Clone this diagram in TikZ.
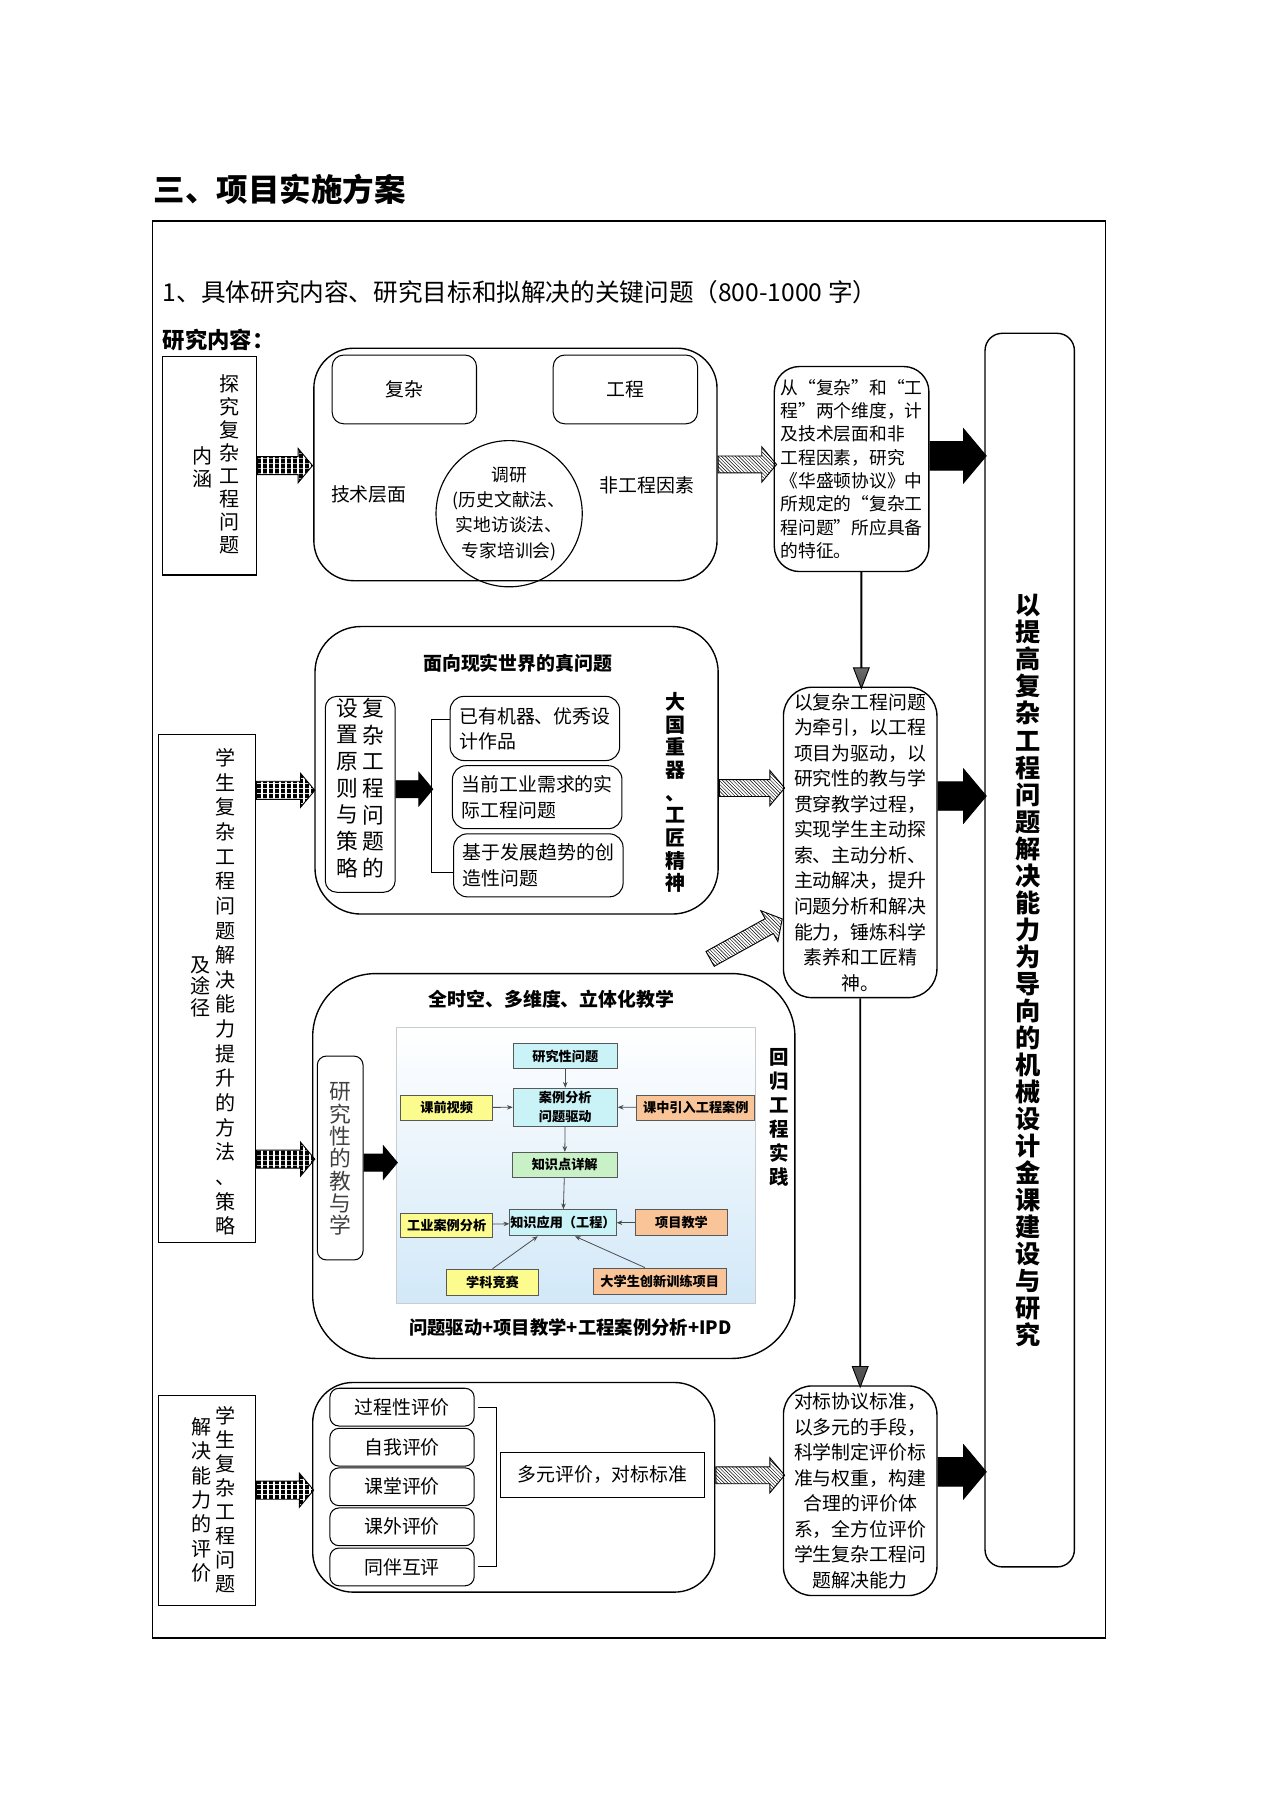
\documentclass[tikz,border=0pt]{standalone}
\usepackage{fontspec}
\setmainfont{Noto Sans CJK SC}
\usetikzlibrary{shapes.arrows,patterns,arrows.meta}

\pgfdeclarepatternformonly{thickvlines}{\pgfpointorigin}{\pgfqpoint{5pt}{4pt}}{\pgfqpoint{5pt}{4pt}}{%
  \pgfpathrectangle{\pgfpointorigin}{\pgfqpoint{3.6pt}{4pt}}\pgfusepath{fill}}

\definecolor{kcyan}{RGB}{202,243,248}
\definecolor{kyellow}{RGB}{252,252,142}
\definecolor{korange}{RGB}{249,197,152}
\definecolor{kgreen}{RGB}{200,241,200}
\definecolor{kblue}{RGB}{210,232,248}

\tikzset{
  box/.style={draw, line width=1.2pt, inner sep=0pt, align=center},
  thinbox/.style={draw, line width=0.9pt, inner sep=0pt, align=center},
  txt/.style={inner sep=0pt, align=center},
  fa/.style={font=\fontsize{16.5}{22.3}\selectfont},
  fb/.style={font=\fontsize{16.5}{22}\selectfont\bfseries},
  kbox/.style={draw=black!65, line width=0.7pt, inner sep=0pt, align=center, font=\fontsize{11.5}{16}\selectfont\bfseries},
  kline/.style={draw=black!70, line width=0.7pt, -{Stealth[length=5pt,width=4pt]}},
  barrow/.style={single arrow, draw, line width=0.8pt, inner xsep=0pt, minimum width=1pt,
    single arrow head indent=0pt, single arrow tip angle=100, anchor=tail},
  stripearr/.style={barrow, pattern=thickvlines, inner ysep=7.5pt, single arrow head extend=7pt},
  hatcharr/.style={barrow, pattern=north west lines, inner ysep=7pt, single arrow head extend=8pt},
  blackarr/.style={barrow, fill=black, inner ysep=12pt, single arrow head extend=11pt},
  smallarr/.style={barrow, fill=black, inner ysep=7pt, single arrow head extend=7pt},
  grayarr/.style={barrow, shape border rotate=270, single arrow tip angle=42,
    top color=white, bottom color=black!70, single arrow head extend=6.5pt}
}

\begin{document}
\begin{tikzpicture}[x=1pt,y=-1pt]
  \useasboundingbox (0,0) rectangle (1107,1565.4);

  \node[txt, anchor=west, font=\fontsize{27.5}{30}\selectfont\bfseries] (title) at (134,165) {三、项目实施方案};
  \draw[line width=1.2pt] (133,193) rectangle (965,1430);
  \node[txt, anchor=west, font=\fontsize{21.5}{24}\selectfont] (head1) at (142,255) {1、具体研究内容、研究目标和拟解决的关键问题（800-1000 字）};
  \node[txt, anchor=west, font=\fontsize{19.5}{22}\selectfont\bfseries] (head2) at (142,297) {研究内容：};

  \node[thinbox, minimum width=82, minimum height=191] (L1) at (183,406.5) {};
  \node[txt, font=\fontsize{17.5}{20.1}\selectfont] (L1a) at (200,405.5) {探\\究\\复\\杂\\工\\程\\问\\题};
  \node[txt, font=\fontsize{17.5}{20}\selectfont] (L1b) at (177,408) {内\\涵};
  \node[box, rounded corners=35, minimum width=352, minimum height=203] (R1) at (450,405.5) {};
  \node[thinbox, rounded corners=10, minimum width=126, minimum height=60, fa] (fz) at (353,340) {复杂};
  \node[thinbox, rounded corners=10, minimum width=126, minimum height=60, fa] (gc) at (546,340) {工程};
  \node[txt, fa] (jscm) at (322,432) {技术层面};
  \node[txt, fa] (fgc) at (565,424) {非工程因素};
  \node[circle, draw, line width=1pt, minimum size=116, inner sep=0pt, align=center,
    font=\fontsize{15.5}{22}\selectfont] (dy) at (444.5,448.5) {调研\\(历史文献法、\\实地访谈法、\\专家培训会)};
  \node[box, rounded corners=22, minimum width=135, minimum height=179, align=left,
    font=\fontsize{15.5}{20.4}\selectfont] (T1) at (743.5,409.5) {从“复杂”和“工\\程”两个维度，计\\及技术层面和非\\工程因素，研究\\《华盛顿协议》中\\所规定的“复杂工\\程问题”所应具备\\的特征。};
  \node[box, rounded corners=15, minimum width=78, minimum height=1077] (RB) at (899,829.5) {};
  \node[txt, font=\fontsize{22}{23.6}\selectfont\bfseries] (RBt) at (898,847.5) {以\\提\\高\\复\\杂\\工\\程\\问\\题\\解\\决\\能\\力\\为\\导\\向\\的\\机\\械\\设\\计\\金\\课\\建\\设\\与\\研\\究};

  \node[thinbox, minimum width=85, minimum height=444] (L2) at (180.5,863) {};
  \node[txt, font=\fontsize{17.5}{21.5}\selectfont] (L2a) at (196.5,866) {学\\生\\复\\杂\\工\\程\\问\\题\\解\\决\\能\\力\\提\\升\\的\\方\\法\\、\\策\\略};
  \node[txt, font=\fontsize{17.5}{19}\selectfont] (L2b) at (175,861.5) {及\\途\\径};
  \node[box, rounded corners=40, minimum width=352, minimum height=251] (R2) at (451,672.5) {};
  \node[txt, fb] (R2t) at (452,579) {面向现实世界的真问题};
  \node[thinbox, rounded corners=10, minimum width=61, minimum height=171] (sz) at (314.5,693.5) {};
  \node[txt, font=\fontsize{19}{23.3}\selectfont] (sza) at (326,688) {复\\杂\\工\\程\\问\\题\\的};
  \node[txt, font=\fontsize{19}{23.3}\selectfont] (szb) at (303,688) {设\\置\\原\\则\\与\\策\\略};
  \node[thinbox, rounded corners=12, minimum width=148, minimum height=56, align=left,
    font=\fontsize{16.5}{22}\selectfont] (q1) at (467,636) {已有机器、优秀设\\计作品};
  \node[thinbox, rounded corners=12, minimum width=148, minimum height=55, align=left,
    font=\fontsize{16.5}{22}\selectfont] (q2) at (469,696) {当前工业需求的实\\际工程问题};
  \node[thinbox, rounded corners=12, minimum width=148, minimum height=55, align=left,
    font=\fontsize{16.5}{22}\selectfont] (q3) at (470,755.5) {基于发展趋势的创\\造性问题};
  \node[txt, font=\fontsize{17.5}{19.8}\selectfont\bfseries] (dgzq) at (590,692) {大\\国\\重\\器\\、\\工\\匠\\精\\神};
  \node[box, rounded corners=25, minimum width=134, minimum height=271, fa] (T2) at (751,735.5) {以复杂工程问题\\为牵引，以工程\\项目为驱动，以\\研究性的教与学\\贯穿教学过程，\\实现学生主动探\\索、主动分析、\\主动解决，提升\\问题分析和解决\\能力，锤炼科学\\素养和工匠精\\神。};

  \node[box, rounded corners=55, minimum width=421, minimum height=336] (R3) at (483.5,1018) {};
  \node[txt, fb] (R3t) at (481.5,872) {全时空、多维度、立体化教学};
  \node[thinbox, rounded corners=8, minimum width=40, minimum height=178] (yj) at (297,1011) {};
  \node[txt, text=black!75, font=\fontsize{19}{19.5}\selectfont] (yjt) at (297,1012) {研\\究\\性\\的\\教\\与\\学};
  \node[draw=black!20, top color=white, bottom color=kblue, minimum width=313, minimum height=241, inner sep=0pt] (pic) at (502.5,1017.5) {};
  \node[kbox, fill=kcyan, minimum width=91, minimum height=22] (k1) at (493.5,922) {研究性问题};
  \node[kbox, fill=kcyan, minimum width=91, minimum height=33] (k2) at (493.5,966.5) {案例分析\\问题驱动};
  \node[kbox, fill=kyellow, minimum width=80, minimum height=22] (k3) at (390,967) {课前视频};
  \node[kbox, fill=korange, minimum width=103, minimum height=22] (k4) at (607.5,967) {课中引入工程案例};
  \node[kbox, fill=kgreen, minimum width=92, minimum height=22] (k5) at (493,1017) {知识点详解};
  \node[kbox, fill=kcyan, minimum width=93, minimum height=23] (k6) at (491.5,1067.5) {知识应用（工程）};
  \node[kbox, fill=kyellow, minimum width=80, minimum height=21] (k7) at (390,1069.5) {工业案例分析};
  \node[kbox, fill=korange, minimum width=80, minimum height=23] (k8) at (595,1067.5) {项目教学};
  \node[kbox, fill=kyellow, minimum width=80, minimum height=23] (k9) at (430,1119.5) {学科竞赛};
  \node[kbox, fill=korange, minimum width=116, minimum height=23] (k10) at (576,1118.5) {大学生创新训练项目};
  \node[txt, font=\fontsize{17}{21}\selectfont\bfseries] (hggc) at (680,975.5) {回\\归\\工\\程\\实\\践};
  \node[txt, font=\fontsize{16}{20}\selectfont\bfseries] (R3b) at (498,1159) {问题驱动+项目教学+工程案例分析+IPD};

  \node[thinbox, minimum width=85, minimum height=184] (L4) at (180.5,1310) {};
  \node[txt, font=\fontsize{17.5}{21}\selectfont] (L4a) at (197,1309.5) {学\\生\\复\\杂\\工\\程\\问\\题};
  \node[txt, font=\fontsize{17.5}{21.2}\selectfont] (L4b) at (176,1309.5) {解\\决\\能\\力\\的\\评\\价};
  \node[box, rounded corners=35, minimum width=351, minimum height=183] (R4) at (448.5,1298.5) {};
  \node[thinbox, rounded corners=8, minimum width=126, minimum height=33, fa] (e1) at (351,1228.5) {过程性评价};
  \node[thinbox, rounded corners=8, minimum width=126, minimum height=33, fa] (e2) at (351,1263.5) {自我评价};
  \node[thinbox, rounded corners=8, minimum width=126, minimum height=33, fa] (e3) at (351,1298) {课堂评价};
  \node[thinbox, rounded corners=8, minimum width=126, minimum height=33, fa] (e4) at (351,1333) {课外评价};
  \node[thinbox, rounded corners=8, minimum width=126, minimum height=33, fa] (e5) at (351,1368) {同伴互评};
  \node[thinbox, line width=0.8pt, minimum width=178, minimum height=39, fa] (dypj) at (526,1287.5) {多元评价，对标标准};
  \node[box, rounded corners=25, minimum width=134, minimum height=183, fa] (T3) at (751,1301.5) {对标协议标准，\\以多元的手段，\\科学制定评价标\\准与权重，构建\\合理的评价体\\系，全方位评价\\学生复杂工程问\\题解决能力};

  \node[stripearr, minimum height=48] (a1) at (L1.east) {};
  \node[hatcharr, minimum height=51] (a2) at (R1.east) {};
  \node[blackarr, minimum height=49] (b1) at ([yshift=11.5pt]T1.east) {};
  \node[grayarr, inner ysep=4.5pt, minimum height=101] (v1) at ([xshift=8.5pt]T1.south) {};
  \node[stripearr, minimum height=51] (a3) at ([yshift=173pt]L2.east) {};
  \node[smallarr, minimum height=32] (b2) at ([yshift=4.5pt]sz.east) {};
  \node[hatcharr, minimum height=57] (a4) at ([yshift=-15.5pt]R2.east) {};
  \node[blackarr, minimum height=42] (b3) at ([yshift=40.5pt]T2.east) {};
  \node[hatcharr, anchor=tip, rotate=29, minimum height=72] (a5) at ([yshift=-66.5pt]T2.west) {};
  \node[grayarr, inner ysep=6pt, minimum height=339] (v2) at (T2.south) {};
  \node[stripearr, minimum height=51] (a6) at ([yshift=-149pt]L2.east) {};
  \node[smallarr, minimum height=29] (b4) at ([yshift=-4pt]yj.east) {};
  \node[stripearr, minimum height=50] (a7) at ([yshift=9pt]L4.east) {};
  \node[hatcharr, minimum height=60] (a8) at ([yshift=10.5pt]R4.east) {};
  \node[blackarr, minimum height=42] (b5) at ([yshift=16.5pt]T3.east) {};

  \draw[line width=0.9pt] ([yshift=8pt]q1.west) -- ++(-16,0) |- ([yshift=-6pt]q3.west);
  \draw[line width=0.9pt] ([xshift=3pt]e1.east) -- ++(16,0) |- ([xshift=3pt]e5.east);

  \draw[kline] (k1) -- (k2);
  \draw[kline] (k3) -- (k2);
  \draw[kline] (k4) -- (k2);
  \draw[kline] (k2) -- (k5);
  \draw[kline] (k5) -- (k6);
  \draw[kline] (k7) -- (k6);
  \draw[kline] (k8) -- (k6);
  \draw[kline] (k9.north) -- ([xshift=-22pt]k6.south);
  \draw[kline] ([xshift=-13pt]k10.north) -- ([xshift=10.5pt]k6.south);
\end{tikzpicture}
\end{document}
